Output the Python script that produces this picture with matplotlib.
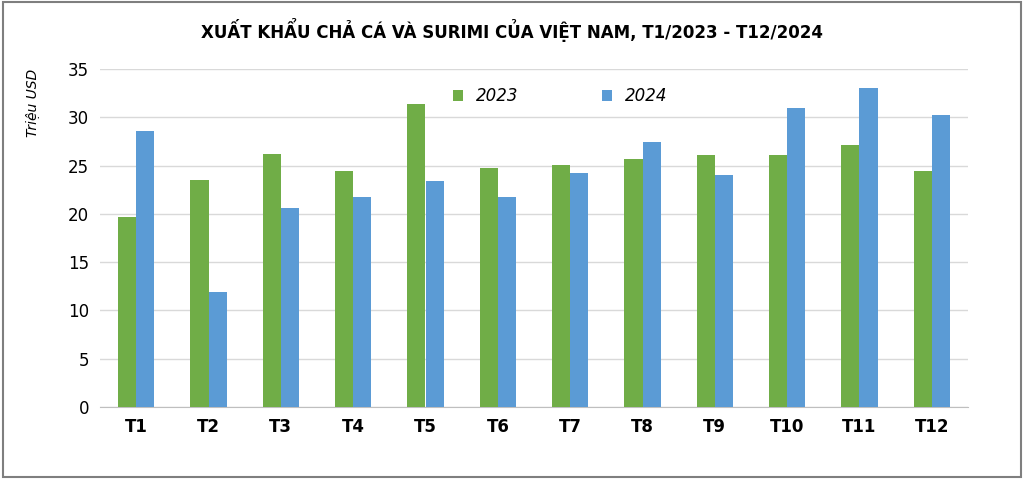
import numpy as np
import matplotlib.pyplot as plt
from matplotlib.patches import Rectangle

# Du lieu
thang = ['T1', 'T2', 'T3', 'T4', 'T5', 'T6', 'T7', 'T8', 'T9', 'T10', 'T11', 'T12']
nam_2023 = [19.7, 23.5, 26.2, 24.4, 31.4, 24.7, 25.1, 25.7, 26.1, 26.1, 27.1, 24.4]
nam_2024 = [28.6, 11.9, 20.6, 21.7, 23.4, 21.7, 24.2, 27.4, 24.0, 31.0, 33.0, 30.2]
y_ticks = [0, 5, 10, 15, 20, 25, 30, 35]

fig = plt.figure(figsize=(10.24, 4.79), dpi=100)
ax = fig.add_axes([100/1024, 1-407/479, 868/1024, 338/479])

x = np.arange(len(thang))
w = 0.25
ax.bar(x - w/2, nam_2023, w, color='#70AD47', label='2023', zorder=3)
ax.bar(x + w/2, nam_2024, w, color='#5B9BD5', label='2024', zorder=3)

ax.set_xlim(-0.5, len(thang) - 0.5)
ax.set_ylim(0, 35)
ax.set_yticks(y_ticks)
ax.set_xticks(x)
ax.set_xticklabels(thang, fontsize=12, fontweight='bold')
ax.tick_params(axis='y', labelsize=12, length=0, pad=8)
ax.tick_params(axis='x', length=0, pad=8)
ax.grid(axis='y', color='#D9D9D9', lw=1, zorder=0)
for s in ['top', 'right', 'left']:
    ax.spines[s].set_visible(False)
ax.spines['bottom'].set_color('#BFBFBF')

ax.text(-0.085, 1.0, 'Triệu USD', transform=ax.transAxes, rotation=90,
        fontsize=10, style='italic', ha='left', va='top')

leg = ax.legend(loc='upper center', bbox_to_anchor=(0.53, 0.99), ncol=2, frameon=False,
                prop={'size': 12, 'style': 'italic'}, columnspacing=5,
                handlelength=0.6, handleheight=0.6)

fig.text(0.5, 30/479 * -1 + 1, 'XUẤT KHẨU CHẢ CÁ VÀ SURIMI CỦA VIỆT NAM, T1/2023 - T12/2024',
         ha='center', va='center', fontsize=12, fontweight='bold')

fig.patches.append(Rectangle((0.003, 0.005), 0.994, 0.99, transform=fig.transFigure,
                             fill=False, edgecolor='#7F7F7F', lw=1.5))

fig.savefig('out.png', dpi=100)
